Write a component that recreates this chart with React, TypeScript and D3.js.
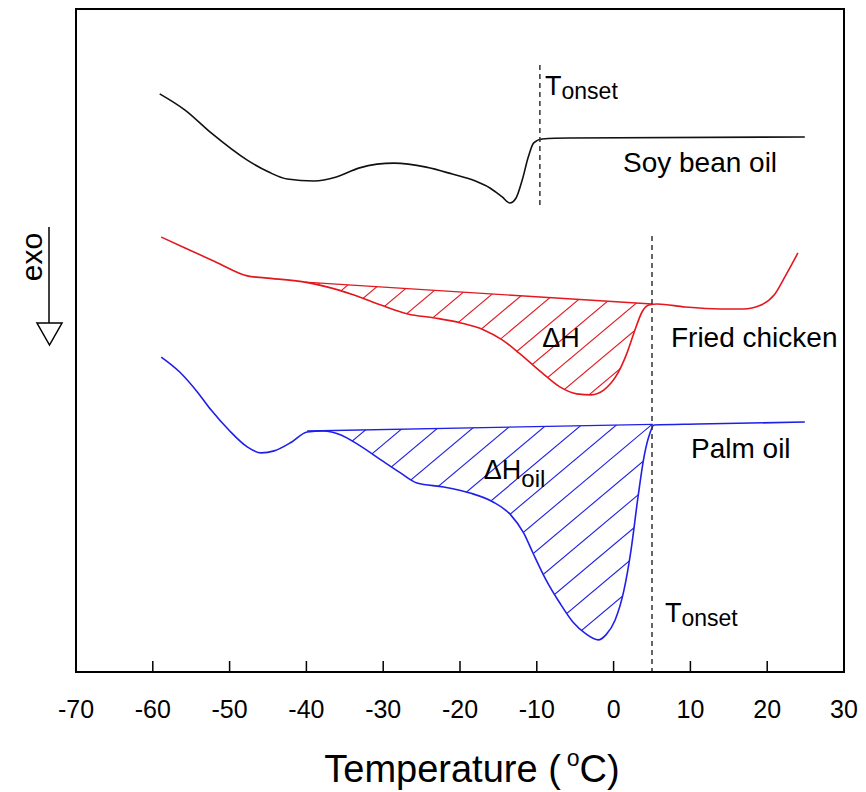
import { useMemo } from "react";
import * as d3 from "d3";

const WIDTH = 866;
const HEIGHT = 792;
const PLOT = { left: 76, right: 844, top: 9, bottom: 672 };
const FONT = "'Liberation Sans', Arial, Helvetica, sans-serif";

const X_TICKS = [-70, -60, -50, -40, -30, -20, -10, 0, 10, 20, 30];

// Soy bean oil (black)
const soyTemp = [
  -59.1, -55.8, -52.4, -47.7, -44.9, -42.5, -39.0, -36.1, -33.2, -30.8, -28.6, -24.4,
  -21.0, -18.0, -16.1, -14.5, -13.5, -12.7, -11.9, -11.1, -10.4, -9.3, -5.8, 24.9
];
const soyFlow = [
  17.44, 16.95, 16.26, 15.44, 15.08, 14.87, 14.81, 14.93, 15.2, 15.32, 15.35, 15.23,
  15.02, 14.81, 14.6, 14.33, 14.15, 14.3, 14.84, 15.54, 15.96, 16.08, 16.11, 16.14
];

// Fried chicken (red)
const friedTemp = [
  -58.9, -55.8, -51.8, -47.7, -45.4, -40.2, -37.2, -33.8, -30.3, -26.8, -23.3, -19.9,
  -16.9, -14.5, -12.3, -9.3, -7.0, -4.8, -2.9, -1.25, 0.57, 1.74, 2.92, 3.7, 4.6, 5.7,
  9.3, 13.85, 16.85, 19.2, 20.9, 22.3, 24.0
];
const friedFlow = [
  13.12, 12.79, 12.37, 11.95, 11.89, 11.76, 11.61, 11.37, 11.07, 10.8, 10.68, 10.53,
  10.32, 10.02, 9.62, 9.02, 8.6, 8.39, 8.36, 8.51, 9.02, 9.62, 10.41, 10.86, 11.07, 11.1,
  11.01, 10.95, 10.95, 11.07, 11.37, 11.92, 12.64
];
const friedBaseTemp = [-40.2, 5.0];
const friedBaseFlow = [11.76, 11.1];

// Palm oil (blue)
const palmTemp = [
  -58.9, -56.5, -54.1, -52.4, -50.1, -47.7, -45.9, -44.2, -41.9, -39.9, -37.8, -35.5,
  -33.2, -30.3, -27.9, -25.6, -22.1, -18.7, -15.7, -13.4, -11.7, -10.5, -8.8, -7.0,
  -5.3, -3.6, -2.0, -1.0, 0.2, 1.35, 2.27, 3.18, 3.96, 4.74, 5.26, 11.0, 24.9
];
const palmFlow = [
  9.5, 9.05, 8.42, 7.9, 7.3, 6.79, 6.61, 6.67, 6.94, 7.24, 7.27, 7.15,
  6.85, 6.4, 6.03, 5.7, 5.58, 5.4, 5.13, 4.74, 4.19, 3.59, 2.78, 2.08,
  1.51, 1.15, 0.97, 1.12, 1.57, 2.47, 3.68, 5.28, 6.49, 7.21, 7.45, 7.48, 7.54
];
const palmBaseTemp = [-39.9, 5.1];
const palmBaseFlow = [7.27, 7.47];

// onset markers: temperature, top and bottom of the dashed line
const onsetTemp = [-9.6, 5.0];
const onsetTop = [18.31, 13.15];
const onsetBottom = [14.09, 0];

const RED = "#e3181f";
const BLUE = "#1f1fe8";

type HatchProps = {
  id: string;
  temps: number[];
  flows: number[];
  baseT: number[];
  baseF: number[];
  color: string;
  spacing: number;
  x: d3.ScaleLinear<number, number>;
  y: d3.ScaleLinear<number, number>;
};

function Hatch({ id, temps, flows, baseT, baseF, color, spacing, x, y }: HatchProps) {
  const above = d3
    .area<number>()
    .x((_, i) => x(temps[i]))
    .y0(PLOT.top)
    .y1((v) => y(v))
    .curve(d3.curveMonotoneX)(flows) ?? "";

  const x0 = x(baseT[0]);
  const x1 = x(baseT[1]);
  const below = `M${x0},${y(baseF[0])}L${x1},${y(baseF[1])}L${x1},${PLOT.bottom}L${x0},${PLOT.bottom}Z`;

  const slope = Math.tan((40 * Math.PI) / 180);
  const h = PLOT.bottom - PLOT.top;
  const lines: number[] = [];
  for (let px = x0 - h / slope; px < x1 + spacing; px += spacing) lines.push(px);

  return (
    <g>
      <defs>
        <clipPath id={`${id}-above`}>
          <path d={above} />
        </clipPath>
        <clipPath id={`${id}-below`}>
          <path d={below} />
        </clipPath>
      </defs>
      <g clipPath={`url(#${id}-above)`}>
        <g clipPath={`url(#${id}-below)`}>
          {lines.map((px) => (
            <line
              key={px}
              x1={px}
              y1={PLOT.bottom}
              x2={px + h / slope}
              y2={PLOT.top}
              stroke={color}
              strokeWidth={1.1}
            />
          ))}
        </g>
      </g>
      <line
        x1={x0}
        y1={y(baseF[0])}
        x2={x1}
        y2={y(baseF[1])}
        stroke={color}
        strokeWidth={1.4}
      />
    </g>
  );
}

export default function App() {
  const x = useMemo(
    () => d3.scaleLinear().domain([-70, 30]).range([PLOT.left, PLOT.right]),
    []
  );
  const y = useMemo(
    () => d3.scaleLinear().domain([0, 20]).range([PLOT.bottom, PLOT.top]),
    []
  );

  const linePath = (temps: number[], flows: number[]) =>
    d3
      .line<number>()
      .x((_, i) => x(temps[i]))
      .y((v) => y(v))
      .curve(d3.curveMonotoneX)(flows) ?? "";

  const midX = (PLOT.left + PLOT.right) / 2;

  return (
    <svg
      width={WIDTH}
      height={HEIGHT}
      viewBox={`0 0 ${WIDTH} ${HEIGHT}`}
      style={{ position: "absolute", left: 0, top: 0, background: "#fff" }}
      fontFamily={FONT}
    >
      <rect width={WIDTH} height={HEIGHT} fill="#fff" />

      <Hatch
        id="fried"
        temps={friedTemp}
        flows={friedFlow}
        baseT={friedBaseTemp}
        baseF={friedBaseFlow}
        color={RED}
        spacing={31}
        x={x}
        y={y}
      />
      <Hatch
        id="palm"
        temps={palmTemp}
        flows={palmFlow}
        baseT={palmBaseTemp}
        baseF={palmBaseFlow}
        color={BLUE}
        spacing={35}
        x={x}
        y={y}
      />

      <path d={linePath(soyTemp, soyFlow)} fill="none" stroke="#111" strokeWidth={1.6} />
      <path d={linePath(friedTemp, friedFlow)} fill="none" stroke={RED} strokeWidth={1.6} />
      <path d={linePath(palmTemp, palmFlow)} fill="none" stroke={BLUE} strokeWidth={1.6} />

      {onsetTemp.map((t, i) => (
        <line
          key={t}
          x1={x(t)}
          x2={x(t)}
          y1={y(onsetTop[i])}
          y2={y(onsetBottom[i])}
          stroke="#333"
          strokeWidth={1.5}
          strokeDasharray="5 4"
        />
      ))}

      {/* frame and ticks */}
      <rect
        x={PLOT.left}
        y={PLOT.top}
        width={PLOT.right - PLOT.left}
        height={PLOT.bottom - PLOT.top}
        fill="none"
        stroke="#000"
        strokeWidth={2}
      />
      {X_TICKS.map((t) => (
        <g key={t}>
          <line x1={x(t)} x2={x(t)} y1={PLOT.bottom} y2={PLOT.bottom - 11} stroke="#000" strokeWidth={1.5} />
          <text x={x(t)} y={718} fontSize={25} textAnchor="middle" fill="#000">
            {t}
          </text>
        </g>
      ))}

      <text x={midX + 12} y={782} fontSize={38} textAnchor="middle" fill="#000">
        Temperature (
        <tspan dx={6} dy={-16} fontSize={23}>o</tspan>
        <tspan dy={16}>C)</tspan>
      </text>

      {/* exo arrow */}
      <text
        transform="translate(42,257) rotate(-90)"
        fontSize={30}
        textAnchor="middle"
        fill="#000"
      >
        exo
      </text>
      <line x1={49} x2={49} y1={227} y2={323} stroke="#000" strokeWidth={1.5} />
      <path d="M37,323L62,323L49.5,345Z" fill="#fff" stroke="#000" strokeWidth={1.5} />

      {/* annotations */}
      <text x={x(-8.93)} y={y(17.41)} fontSize={27} fill="#000">
        T<tspan fontSize={23} dy={4}>onset</tspan>
      </text>
      <text x={x(1.22)} y={y(15.08)} fontSize={28} fill="#000">
        Soy bean oil
      </text>
      <text x={x(7.47)} y={y(9.8)} fontSize={28} fill="#000">
        Fried chicken
      </text>
      <text x={x(-9.3)} y={y(9.8)} fontSize={27} fill="#000">
        ΔH
      </text>
      <text x={x(10.08)} y={y(6.46)} fontSize={28} fill="#000">
        Palm oil
      </text>
      <text x={x(-16.9)} y={y(5.82)} fontSize={27} fill="#000">
        ΔH<tspan fontSize={24} dy={8}>oil</tspan>
      </text>
      <text x={x(6.69)} y={y(1.51)} fontSize={27} fill="#000">
        T<tspan fontSize={23} dy={4}>onset</tspan>
      </text>
    </svg>
  );
}
